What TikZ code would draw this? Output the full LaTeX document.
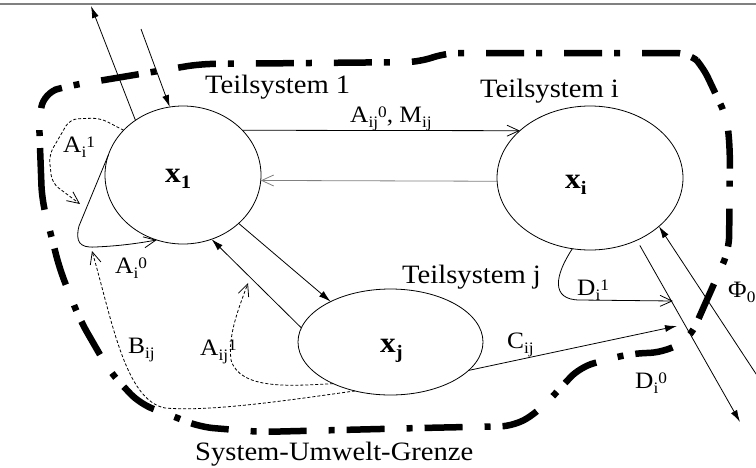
\documentclass[tikz,border=0pt]{standalone}
\usepackage{fontspec}
\setmainfont{Liberation Serif}[FakeStretch=1.08]
\usetikzlibrary{arrows.meta,shapes.geometric}
\newcommand\mysb[1]{\raisebox{-5pt}{\fontsize{16}{16}\selectfont #1}}
\newcommand\mysp[1]{\raisebox{4.5pt}{\fontsize{16}{16}\selectfont #1}}
\newcommand\xbold[1]{{\fontsize{29}{31}\selectfont\bfseries x\raisebox{-6pt}{\fontsize{19}{19}\selectfont #1}}}
\begin{document}
\begin{tikzpicture}[x=1pt,y=-1pt,
  ell/.style={ellipse, draw, line width=0.8pt, inner sep=0pt, outer sep=0pt},
  sysname/.style={anchor=base west, inner sep=0pt, font=\fontsize{26.5}{30}\selectfont},
  lbl/.style={anchor=base west, inner sep=0pt, font=\fontsize{23.5}{27}\selectfont},
  conn/.style={line width=0.8pt},
  fhead/.style={-{Latex[length=12pt,width=7pt]}},
  ohead/.style={-{Straight Barb[length=12pt,width=11pt]}},
  dsh/.style={dash pattern=on 3pt off 2pt},
  bnd/.style={line width=6.5pt, dash pattern=on 38pt off 12pt on 6pt off 22pt, rounded corners=14pt}]
\clip (0,0) rectangle (756,467);
\fill[white] (0,0) rectangle (756,467);
\draw[gray, line width=1.2pt] (0,4) -- (756,4);

% boundary
\draw[bnd] (42,200) -- (39,120) -- (44,93) -- (68,86) -- (200,64) -- (420,62) -- (445,53)
  -- (690,53) -- (702,65) -- (727,118) -- (730,150) -- (729,250) -- (690,338) -- (665,352)
  -- (628,354) -- (580,367) -- (540,410) -- (515,426) -- (420,428) -- (260,432) -- (200,427)
  -- (170,415) -- (140,404) -- (110,372) -- (80,320) -- (60,270) -- cycle;

% subsystems
\node[ell, minimum width=156pt, minimum height=138pt] (x1) at (183,175) {};
\node[ell, minimum width=186pt, minimum height=144pt] (xi) at (590,178) {};
\node[ell, minimum width=185pt, minimum height=106pt] (xj) at (390.5,342) {};
\node[anchor=base west, inner sep=0pt] (x1t) at (165,182) {\xbold{1}};
\node[anchor=base west, inner sep=0pt] (xit) at (565,188) {\xbold{i}};
\node[anchor=base west, inner sep=0pt] (xjt) at (380,352) {\xbold{j}};

\node[sysname] (t1) at (205,93) {Teilsystem 1};
\node[sysname] (ti) at (480,97) {Teilsystem i};
\node[sysname] (tj) at (402,283) {Teilsystem j};
\node[sysname] (sug) at (195,460) {System-Umwelt-Grenze};

% free ends
\coordinate (out1) at (91,6);
\coordinate (in1) at (141,29);
\coordinate (cij) at (677,326);
\coordinate (di0) at (740,422);
\coordinate (phi) at (762,383);
\coordinate (ai1) at (80,204);
\coordinate (bij) at (92,251);
\coordinate (aij) at (248,283);
\coordinate (di1) at (673,301);

% connectors
\draw[conn, fhead] (x1.131) -- (out1);
\draw[conn, fhead] (in1) -- (x1.101);
\draw[conn, ohead] (x1.37) -- (xi.146);
\draw[conn, gray, ohead] (xi.182) -- (x1.-4);
\draw[conn, fhead] (x1.-41) -- (xj.146);
\draw[conn, fhead] (xj.171) -- (x1.-66);
\draw[conn, fhead] (xj.-20) -- (cij);
\draw[conn, fhead, shorten <=6pt] (xi.-53) -- (di0);
\draw[conn, fhead] (phi) -- (xi.-35);

\draw[conn, dsh, ohead, rounded corners=8pt] (x1.143) -- (100,118) -- (70,119) -- (49,155) -- (52,183) -- (ai1);
\draw[conn, ohead] (x1.165) -- (79,226) .. controls (75,242) and (80,248) .. (95,247)
  .. controls (120,246) and (140,243) .. (x1.-112);
\draw[conn, dsh, ohead] (xj.-126) .. controls (290,400) and (210,412) .. (165,408)
  .. controls (125,400) and (112,320) .. (bij);
\draw[conn, dsh, ohead] (xj.-144) .. controls (290,386) and (240,390) .. (231,360)
  .. controls (228,335) and (238,310) .. (aij);
\draw[conn, ohead] (xi.-104) .. controls (555,275) and (550,300) .. (580,300) -- (di1);

% labels
\node[lbl] (la0) at (350,122) {A\mysb{ij}\mysp{0}, M\mysb{ij}};
\node[lbl] (lai1) at (63,152) {A\mysb{i}\mysp{1}};
\node[lbl] (lai0) at (115,273) {A\mysb{i}\mysp{0}};
\node[lbl] (lbij) at (128,353) {B\mysb{ij}};
\node[lbl] (laij) at (200,355) {A\mysb{ij}\mysp{1}};
\node[lbl] (lcij) at (507,348) {C\mysb{ij}};
\node[lbl] (ldi1) at (577,295) {D\mysb{i}\mysp{1}};
\node[lbl] (ldi0) at (635,388) {D\mysb{i}\mysp{0}};
\node[lbl] (lphi) at (728,297) {Φ\mysb{0}};
\end{tikzpicture}
\end{document}
